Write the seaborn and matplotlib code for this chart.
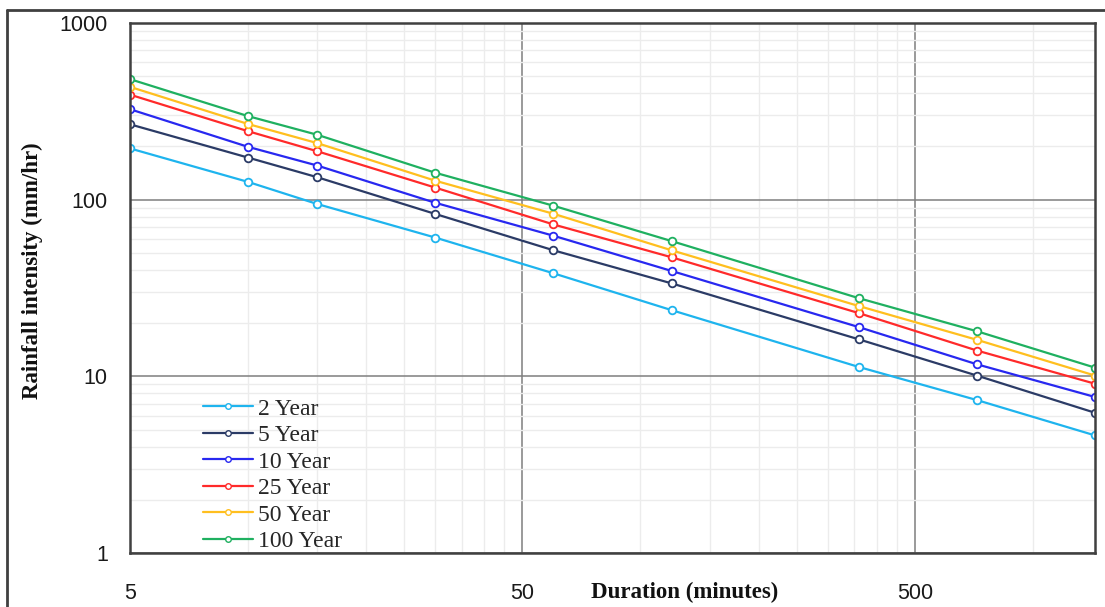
import numpy as np
import pandas as pd
import matplotlib
matplotlib.use("Agg")
import matplotlib.pyplot as plt
import matplotlib.ticker as mticker
from matplotlib.lines import Line2D
import seaborn as sns

# ---- data ----
durations = [5, 10, 15, 30, 60, 120, 360, 720, 1440]
series_names = ["2 Year", "5 Year", "10 Year", "25 Year", "50 Year", "100 Year"]
y_2 = [195, 126, 94.5, 61, 38.3, 23.7, 11.3, 7.34, 4.63]
y_5 = [267, 173, 134, 83, 51.7, 33.6, 16.2, 10.1, 6.22]
y_10 = [325, 199, 156, 96, 62.5, 39.5, 19.0, 11.7, 7.64]
y_25 = [393, 244, 188, 117, 72.4, 47.2, 22.8, 14.0, 9.08]
y_50 = [435, 268, 209, 128, 83.2, 51.7, 25.0, 16.1, 10.1]
y_100 = [481, 297, 233, 142, 92.4, 58.3, 27.7, 18.0, 11.2]
x_ticks = [5, 50, 500]
y_ticks = [1, 10, 100, 1000]

colors = ["#1EB4EE", "#2B3B66", "#2828F0", "#FF2A2A", "#FFBF1F", "#1FB060"]

values = [y_2, y_5, y_10, y_25, y_50, y_100]
df = pd.DataFrame({
    "Duration": durations * len(series_names),
    "Intensity": [v for s in values for v in s],
    "Series": [n for n in series_names for _ in durations],
})

sns.set_style("white")
plt.rcParams["font.family"] = ["Liberation Serif", "DejaVu Serif"]

W, H = 1105, 607
fig = plt.figure(figsize=(W / 100, H / 100), dpi=100)
ax = fig.add_axes([130 / W, 1 - 553 / H, 965 / W, 530 / H])

for name, col in zip(series_names, colors):
    sub = df[df["Series"] == name]
    sns.lineplot(data=sub, x="Duration", y="Intensity", ax=ax, color=col,
                 linewidth=1.6, marker="o", markersize=5.5,
                 markerfacecolor="white", markeredgecolor=col,
                 markeredgewidth=1.3, label=name, legend=False)

ax.set_xscale("log")
ax.set_yscale("log")
ax.set_xlim(5, 1440)
ax.set_ylim(1, 1000)

# ticks
ax.xaxis.set_major_locator(mticker.FixedLocator(x_ticks))
minor_x = [5 * k * 10 ** n for n in range(0, 3) for k in range(2, 10)]
minor_x = [m for m in minor_x if m < 1440]
ax.xaxis.set_minor_locator(mticker.FixedLocator(minor_x))
ax.xaxis.set_major_formatter(mticker.FuncFormatter(lambda v, p: f"{v:g}"))
ax.xaxis.set_minor_formatter(mticker.NullFormatter())
ax.yaxis.set_major_locator(mticker.FixedLocator(y_ticks))
ax.yaxis.set_minor_locator(mticker.LogLocator(base=10, subs=np.arange(2, 10)))
ax.yaxis.set_major_formatter(mticker.FuncFormatter(lambda v, p: f"{v:g}"))
ax.yaxis.set_minor_formatter(mticker.NullFormatter())

ax.tick_params(axis="y", which="major", direction="out", length=7, width=1.3,
               color="#333333", pad=9)
ax.tick_params(axis="y", which="minor", direction="out", length=5.5, width=1.1,
               color="#333333")
ax.tick_params(axis="x", which="major", direction="out", length=4.5, width=1.3,
               color="#333333", pad=17)
ax.tick_params(axis="x", which="minor", direction="out", length=3, width=1.1,
               color="#333333")
for lab in ax.get_xticklabels() + ax.get_yticklabels():
    lab.set_family(["Liberation Sans", "DejaVu Sans"])
    lab.set_fontsize(15.5)
    lab.set_color("#1a1a1a")

# grid
ax.grid(which="minor", color="#ececec", linewidth=1.0)
ax.grid(which="major", color="#7f7f7f", linewidth=1.1)
ax.set_axisbelow(True)
for sp in ax.spines.values():
    sp.set_color("#404040")
    sp.set_linewidth(1.8)
    sp.set_visible(True)

ax.set_xlabel("")
ax.set_ylabel("")
fig.text(685 / W, 1 - 592 / H, "Duration (minutes)", ha="center", va="center",
         fontsize=16.5, fontweight="bold", color="#111111")
fig.text(32 / W, 1 - 271 / H, "Rainfall intensity (mm/hr)", ha="center",
         va="center", rotation=90, fontsize=16.5, fontweight="bold",
         color="#111111")

# legend
handles = [Line2D([0], [0], color=c, linewidth=1.6, marker="o", markersize=4,
                  markerfacecolor="white", markeredgecolor=c,
                  markeredgewidth=1.0) for c in colors]
leg = ax.legend(handles, series_names, loc="lower left",
                bbox_to_anchor=(73 / 965, 1 / 530), frameon=False,
                fontsize=17, handlelength=2.1, handletextpad=0.25,
                labelspacing=0.21, borderpad=0, borderaxespad=0)

# figure frame (top and left edges)
fig.add_artist(Line2D([7 / W, 1.0], [1 - 10 / H, 1 - 10 / H],
                      transform=fig.transFigure, color="#404040", linewidth=2))
fig.add_artist(Line2D([7 / W, 7 / W], [0.0, 1 - 10 / H],
                      transform=fig.transFigure, color="#404040", linewidth=2))

fig.savefig("out.png", dpi=100)
